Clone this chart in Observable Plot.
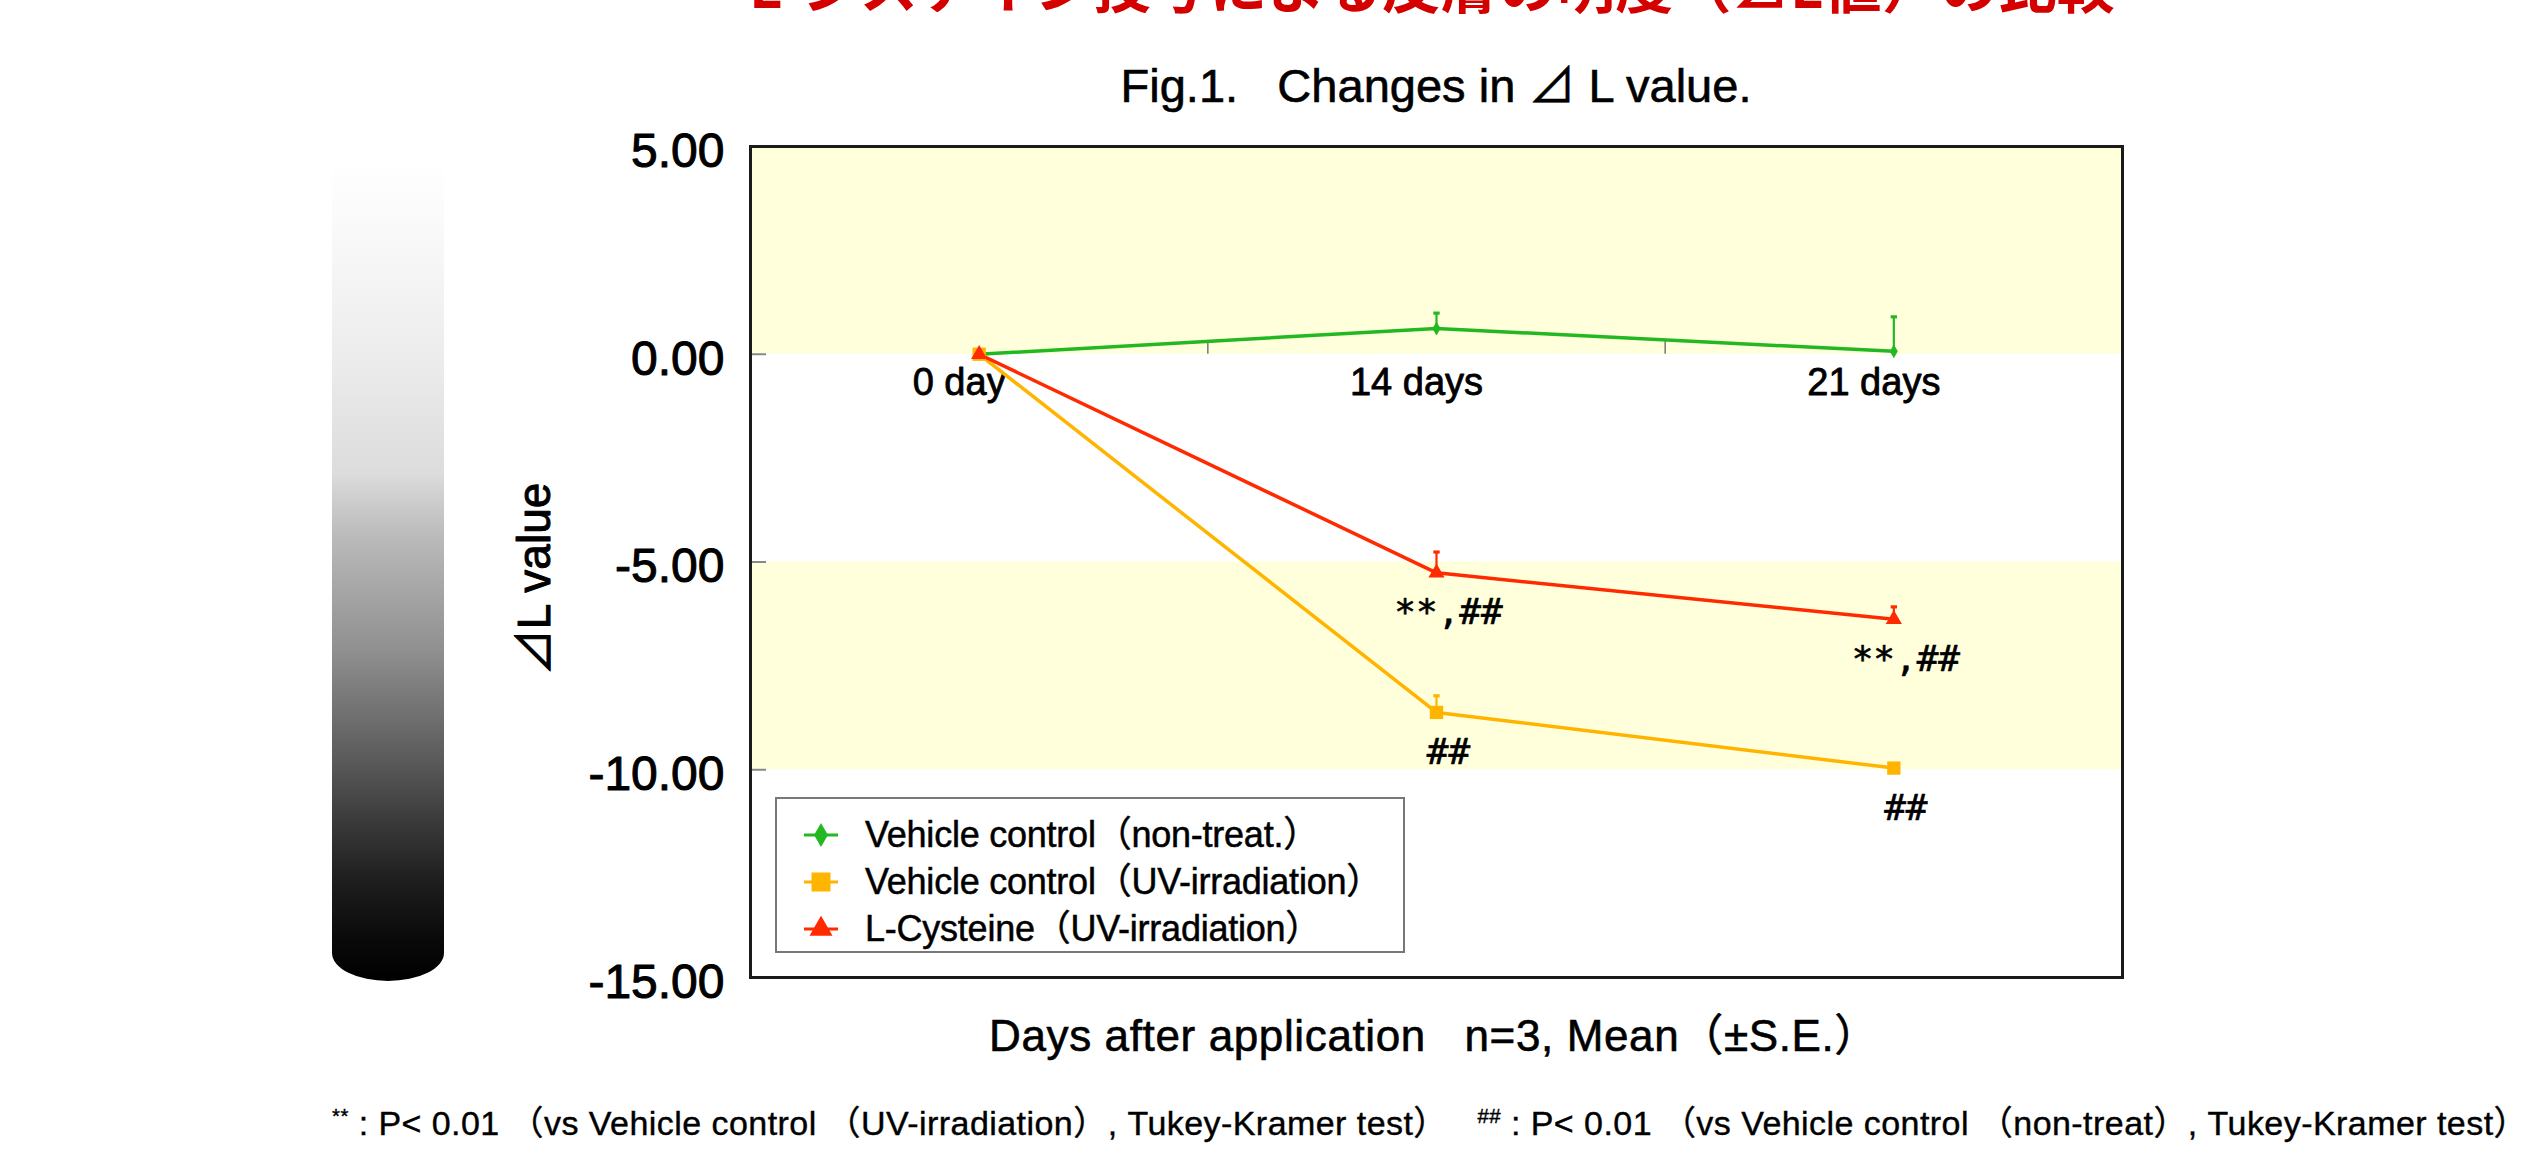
<!DOCTYPE html>
<html><head><meta charset="utf-8">
<script src="https://cdn.jsdelivr.net/npm/d3@7"></script>
<script src="https://cdn.jsdelivr.net/npm/@observablehq/plot@0.6"></script>
<style>
html,body{margin:0;padding:0;background:#fff;}
#page{position:relative;width:2541px;height:1152px;overflow:hidden;font-family:"Liberation Sans","Noto Sans CJK JP",Arial,sans-serif;color:#000;}
.t{position:absolute;white-space:pre;line-height:1;-webkit-text-stroke:0.6px #000;}
#chart{position:absolute;left:0;top:120px;}
#gradbar{position:absolute;left:332px;top:162px;width:112px;height:819px;
 background:linear-gradient(to bottom,#fff 0%,#f8f8f8 10%,#ececec 24%,#dcdcdc 38%,#bdbdbd 45%,#a5a5a5 52.5%,#909090 59.5%,#747474 66.5%,#585858 73.6%,#3a3a3a 80.6%,#1e1e1e 87.7%,#0a0a0a 94.7%,#000 100%);
 border-bottom-left-radius:56px 28px;border-bottom-right-radius:56px 28px;}
#heading{font-family:"Noto Sans CJK JP",sans-serif;font-weight:bold;font-size:58px;color:#d40000;-webkit-text-stroke:0;}
#figtitle{font-size:47px;}
#xlabel{font-size:44px;}
#foot{font-size:34px;-webkit-text-stroke:0.4px #000;}
#foot sup{font-size:0.6em;vertical-align:0.6em;line-height:0;}
#legend{position:absolute;left:775px;top:797px;width:630px;height:156px;box-sizing:border-box;border:2px solid #777;background:#fff;}
#legend .row{position:absolute;left:0;height:47px;width:100%;}
#legend svg{position:absolute;left:27px;top:10px;}
#legend .lt{position:absolute;left:88px;top:5px;font-size:36px;line-height:1;white-space:pre;-webkit-text-stroke:0.5px #000;}
</style></head><body>
<div id="page">
 <div id="gradbar"></div>
 <div id="heading" class="t">L-システイン投与による皮膚の明度（⊿L値）の比較</div>
 <div id="figtitle" class="t">Fig.1.   Changes in ⊿ L value.</div>
 <div id="chart"></div>
 <div id="legend"></div>
 <div id="xlabel" class="t">Days after application   n=3, Mean（±S.E.）</div>
 <div id="foot" class="t"><sup>**</sup> : P&lt; 0.01 （vs Vehicle control （UV-irradiation）, Tukey-Kramer test）   <sup>##</sup> : P&lt; 0.01 （vs Vehicle control （non-treat）, Tukey-Kramer test）</div>
</div>
<script>
// ---- data ----
const categories = ["0 day", "14 days", "21 days"];
const seriesNames = ["Vehicle control（non-treat.）", "Vehicle control（UV-irradiation）", "L-Cysteine（UV-irradiation）"];
const nonTreat    = [0, 0.62, 0.07];
const nonTreatSE  = [0, 0.37, 0.83];
const uvVehicle   = [0, -8.62, -9.96];
const uvVehicleSE = [0, 0.40, 0.08];
const lCysteine   = [0, -5.26, -6.38];
const lCysteineSE = [0, 0.50, 0.30];
const yTicks = [5, 0, -5, -10, -15];
const shadedBands = [[0, 5], [-10, -5]];
const annotations = [
  {series: 2, day: 1, text: "**,##"},
  {series: 2, day: 2, text: "**,##"},
  {series: 1, day: 1, text: "##"},
  {series: 1, day: 2, text: "##"}
];

// ---- styles ----
const colors = ["#22b822", "#ffb400", "#ff2a00"];
const symbols = ["diamond", "square", "triangle"];
const radii = [4.2, 7.5, 6];
const fontStack = "'Liberation Sans', 'Noto Sans CJK JP', Arial, sans-serif";

const seriesValues = [nonTreat, uvVehicle, lCysteine];
const seriesSE = [nonTreatSE, uvVehicleSE, lCysteineSE];
const rows = seriesNames.flatMap((name, s) => categories.map((day, i) => ({
  name, s, i, day, value: seriesValues[s][i], se: seriesSE[s][i]
})));
const withSE = rows.filter(d => d.se > 0);
const boundaries = d3.range(1, categories.length).map(i => i - 0.5);

const capSymbol = {draw(ctx, size) {
  const w = Math.sqrt(size);
  ctx.moveTo(-w / 2, -w / 4); ctx.lineTo(w / 2, -w / 4);
  ctx.lineTo(w / 2, w / 4); ctx.lineTo(-w / 2, w / 4); ctx.closePath();
}};

const chart = Plot.plot({
  width: 2541, height: 880,
  marginTop: 26, marginBottom: 23, marginLeft: 750, marginRight: 419,
  style: {fontFamily: fontStack, color: "#000", background: "transparent", overflow: "visible"},
  x: {type: "linear", domain: [-0.5, categories.length - 0.5], axis: null},
  y: {domain: [-15, 5], axis: null},
  color: {domain: seriesNames, range: colors},
  marks: [
    Plot.rect(shadedBands, {y1: d => d[0], y2: d => d[1], fill: "#ffffdc"}),
    Plot.ruleY(yTicks.slice(1, -1), {x1: -0.5, x2: -0.465, stroke: "#888", strokeWidth: 2}),
    Plot.ruleX(boundaries, {y1: 0, y2: 0.31, stroke: "#777", strokeWidth: 1.5}),
    Plot.axisY(yTicks, {tickSize: 0, tickPadding: 26, fontSize: 48, dy: 5, tickFormat: d => d.toFixed(2), label: null,
      textStroke: "#000", textStrokeWidth: 1}),
    Plot.text(categories, {x: (d, i) => i, y: 0, dy: 29, dx: -20, fontSize: 38, text: d => d,
      fill: "#000", stroke: "#000", strokeWidth: 0.8}),
    Plot.text(["⊿L value"], {frameAnchor: "left", textAnchor: "middle", rotate: -90, dx: -215, dy: 17, fontSize: 46,
      text: d => d, fill: "#000", stroke: "#000", strokeWidth: 1}),
    Plot.ruleX(withSE, {x: "i", y1: "value", y2: d => d.value + d.se, stroke: "name", strokeWidth: 2.2}),
    Plot.dot(withSE, {x: "i", y: d => d.value + d.se, fill: "name", symbol: capSymbol, r: 3.6}),
    Plot.line(rows, {x: "i", y: "value", z: "name", stroke: "name", strokeWidth: 3.5}),
    ...seriesNames.map((name, s) => Plot.dot(rows.filter(d => d.s === s),
      {x: "i", y: "value", fill: "name", symbol: symbols[s], r: radii[s]})),
    Plot.text(annotations, {x: "day", y: d => seriesValues[d.series][d.day], text: "text",
      dy: 40, dx: 12, fontSize: 36, fontFamily: "'DejaVu Sans Mono', monospace",
      fill: "#000", stroke: "#000", strokeWidth: 0.6}),
    Plot.frame({stroke: "#1a1a1a", strokeWidth: 3})
  ]
});
document.getElementById("chart").append(chart);

// ---- legend ----
const legend = document.getElementById("legend");
const legendSymbols = [[d3.symbolDiamond, 166], [d3.symbolSquare, 361], [d3.symbolTriangle, 230]];
seriesNames.forEach((name, s) => {
  const row = document.createElement("div");
  row.className = "row";
  row.style.top = (12.5 + s * 47) + "px";
  const path = d3.symbol(legendSymbols[s][0], legendSymbols[s][1])();
  row.innerHTML = `<svg width="34" height="26" viewBox="-17 -13 34 26"><line x1="-17" x2="17" y1="0" y2="0" stroke="${colors[s]}" stroke-width="3"/><path d="${path}" fill="${colors[s]}"/></svg><div class="lt">${name}</div>`;
  legend.append(row);
});
(function () {
  const lts = legend.querySelectorAll(".lt");
  const ref = lts[1];
  const w = ref.getBoundingClientRect().width;
  const n = Array.from(ref.textContent).length;
  const ls = (517 - w) / n;
  lts.forEach(el => el.style.letterSpacing = ls + "px");
})();

// ---- place texts ----
function place(id, {center, left, top, target}) {
  const el = document.getElementById(id);
  el.style.letterSpacing = "0px";
  const w = el.getBoundingClientRect().width;
  const n = Array.from(el.textContent).length;
  el.style.letterSpacing = ((target - w) / n) + "px";
  el.style.left = (center !== undefined ? center - target / 2 : left) + "px";
  el.style.top = top + "px";
}
place("heading", {center: 1432, top: -46, target: 1366});
place("figtitle", {center: 1436, top: 62, target: 631});
place("xlabel", {center: 1434, top: 1014, target: 890});
place("foot", {left: 332, top: 1106, target: 2196});
</script>
</body></html>
